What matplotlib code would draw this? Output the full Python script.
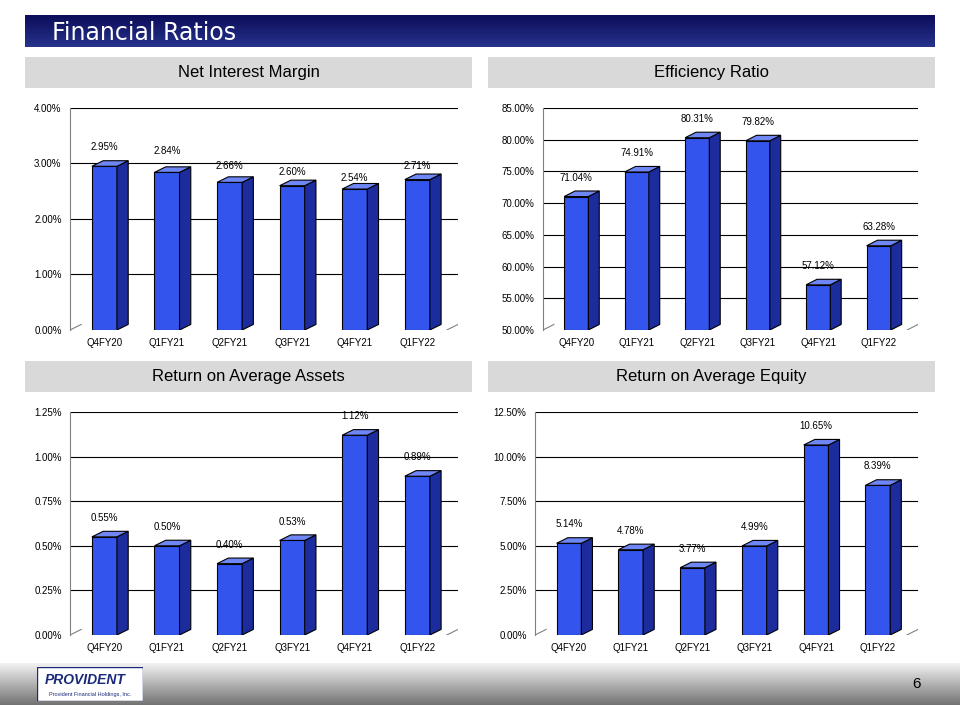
import matplotlib.pyplot as plt
import matplotlib.patches as mpatches
import numpy as np

quarters = ["Q4FY20", "Q1FY21", "Q2FY21", "Q3FY21", "Q4FY21", "Q1FY22"]
nim = [2.95, 2.84, 2.66, 2.60, 2.54, 2.71]
eff = [71.04, 74.91, 80.31, 79.82, 57.12, 63.28]
roaa = [0.55, 0.50, 0.40, 0.53, 1.12, 0.89]
roae = [5.14, 4.78, 3.77, 4.99, 10.65, 8.39]

FRONT = "#3355ee"
SIDE = "#1c2c9c"
TOP = "#6f86f5"


def gradient_bar(fig, rect, c1, c2):
    ax = fig.add_axes(rect)
    ax.axis("off")
    t = np.linspace(0, 1, 64)
    cm = np.array([np.array(c1) * (1 - s) + np.array(c2) * s for s in t])
    ax.imshow(cm.reshape(-1, 1, 3), aspect="auto", extent=[0, 1, 0, 1])
    return ax


def px(x0, y0, x1, y1):
    return [x0 / 960, 1 - y1 / 720, (x1 - x0) / 960, (y1 - y0) / 720]


def panel_header(fig, x0, x1, y0, text):
    ax = fig.add_axes(px(x0, y0, x1, y0 + 31))
    ax.axis("off")
    ax.add_patch(mpatches.Rectangle((0, 0), 1, 1, fc="#d9d9d9", ec="none"))
    ax.text(0.5, 0.5, text, ha="center", va="center", fontsize=12)


def chart(fig, rect, vals, lo, hi, step, dec, lift):
    ax = fig.add_axes(rect)
    n = len(vals)
    rng = hi - lo
    dx, dy = 0.18, rng * 0.025
    ax.set_xlim(-0.55, n - 0.35)
    ax.set_ylim(lo, hi)
    ticks = np.arange(lo, hi + step / 2, step)
    for t in ticks[1:]:
        ax.plot([-0.55, n - 0.35], [t, t], color="black", lw=0.8, zorder=0)
    ax.plot([-0.55, -0.55 + dx], [lo, lo + dy], color="gray", lw=0.8, zorder=0)
    ax.plot([n - 0.35 - dx, n - 0.35], [lo, lo + dy], color="gray", lw=0.8, zorder=0)
    w = 0.4
    for i, v in enumerate(vals):
        x0 = i - w / 2
        ax.add_patch(mpatches.Rectangle((x0, lo), w, v - lo, fc=FRONT, ec="black", lw=0.8, zorder=3))
        ax.add_patch(mpatches.Polygon([(x0 + w, lo), (x0 + w + dx, lo + dy), (x0 + w + dx, v + dy), (x0 + w, v)],
                                      fc=SIDE, ec="black", lw=0.8, zorder=3))
        ax.add_patch(mpatches.Polygon([(x0, v), (x0 + dx, v + dy), (x0 + w + dx, v + dy), (x0 + w, v)],
                                      fc=TOP, ec="black", lw=0.8, zorder=3))
        ax.annotate(f"{v:.2f}%", (i, v), xytext=(0, lift[i]), textcoords="offset points",
                    ha="center", va="bottom", fontsize=7)
    ax.set_yticks(ticks)
    ax.set_yticklabels([f"{t:.{dec}f}%" for t in ticks], fontsize=7)
    ax.set_xticks(range(n))
    ax.set_xticklabels(quarters, fontsize=7)
    ax.tick_params(length=0, pad=6)
    for s in ["top", "right", "bottom"]:
        ax.spines[s].set_visible(False)
    ax.spines["left"].set_color("gray")
    return ax


plt.rcParams["font.family"] = ["Liberation Sans", "DejaVu Sans"]
fig = plt.figure(figsize=(9.6, 7.2), dpi=100)

tb = gradient_bar(fig, px(25, 15, 935, 47), (0.05, 0.05, 0.35), (0.15, 0.2, 0.55))
tb.text(0.03, 0.45, "Financial Ratios", color="white", fontsize=17, va="center", transform=tb.transAxes,
        family="DejaVu Sans")

panel_header(fig, 25, 472, 57, "Net Interest Margin")
panel_header(fig, 488, 935, 57, "Efficiency Ratio")
panel_header(fig, 25, 472, 361, "Return on Average Assets")
panel_header(fig, 488, 935, 361, "Return on Average Equity")

chart(fig, px(70, 108, 458, 330), nim, 0, 4, 1, 2, [10, 12, 8, 6, 4, 6])
chart(fig, px(543, 108, 918, 330), eff, 50, 85, 5, 2, [10, 10, 10, 10, 10, 10])
chart(fig, px(70, 412, 458, 635), roaa, 0, 1.25, 0.25, 2, [10, 10, 10, 10, 10, 10])
chart(fig, px(535, 412, 918, 635), roae, 0, 12.5, 2.5, 2, [10, 10, 10, 10, 10, 10])

fb = gradient_bar(fig, px(0, 663, 960, 705), (0.95, 0.95, 0.95), (0.45, 0.45, 0.45))
fb.text(0.955, 0.5, "6", fontsize=11, va="center", ha="center", transform=fb.transAxes)

lg = fig.add_axes(px(37, 667, 143, 701))
lg.axis("off")
lg.add_patch(mpatches.Rectangle((0, 0), 1, 1, fc="white", ec="#1a2a7a", lw=1))
lg.text(0.45, 0.62, "PROVIDENT", color="#1a2a7a", fontsize=10, fontweight="bold", style="italic",
        ha="center", va="center")
lg.text(0.5, 0.2, "Provident Financial Holdings, Inc.", color="#1a2a7a", fontsize=4, ha="center", va="center")

fig.savefig("out.png", dpi=100)
